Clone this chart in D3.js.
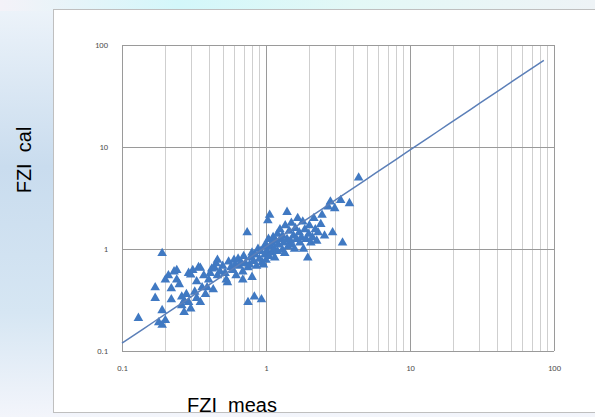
<!DOCTYPE html>
<head>
  <meta charset="utf-8">
  <script src="https://cdn.jsdelivr.net/npm/d3@7"></script>
  <style>
    body { margin: 0; }
    text { font-family: Calibri, Carlito, "Liberation Sans", sans-serif; }
    .tick text { fill: #4d4d4d; font-size: 8.5px; }
    .axisTitle { font-family: Arial, "Liberation Sans", sans-serif; font-size: 20px; fill: #000; white-space: pre; }
  </style>
</head>
<body>
  <svg width="595" height="417"></svg>
  <script>
    const fziMeas = [0.13, 0.17, 0.17, 0.19, 0.19, 0.18, 0.19, 0.2, 0.2, 0.21, 0.22, 0.22, 0.23, 0.24, 0.24, 0.25,
      0.26, 0.26, 0.27, 0.27, 0.28, 0.29, 0.29, 0.3, 0.3, 0.31, 0.32, 0.33, 0.33, 0.34, 0.35, 0.35, 0.36, 0.37, 0.38,
      0.39, 0.4, 0.41, 0.42, 0.43, 0.44, 0.45, 0.46, 0.46, 0.48, 0.5, 0.52, 0.53, 0.54, 0.55, 0.57, 0.59, 0.6, 0.61,
      0.62, 0.64, 0.65, 0.67, 0.69, 0.69, 0.7, 0.72, 0.74, 0.75, 0.75, 0.77, 0.78, 0.8, 0.8, 0.82, 0.83, 0.84, 0.86,
      0.88, 0.9, 0.92, 0.93, 0.94, 0.96, 0.97, 0.98, 1.0, 1.0, 1.02, 1.03, 1.04, 1.05, 1.06, 1.08, 1.1, 1.1, 1.12,
      1.14, 1.15, 1.17, 1.2, 1.2, 1.22, 1.25, 1.27, 1.3, 1.3, 1.33, 1.35, 1.36, 1.4, 1.4, 1.42, 1.45, 1.48, 1.5, 1.5,
      1.55, 1.58, 1.6, 1.63, 1.66, 1.7, 1.72, 1.76, 1.8, 1.82, 1.86, 1.9, 1.95, 1.98, 2.0, 2.05, 2.1, 2.15, 2.2, 2.25,
      2.3, 2.4, 2.45, 2.55, 2.7, 2.8, 2.9, 3.0, 3.3, 3.4, 3.8, 4.4];
    const fziCal = [0.21, 0.42, 0.33, 0.91, 0.25, 0.19, 0.18, 0.2, 0.5, 0.55, 0.41, 0.32, 0.6, 0.62, 0.5, 0.45,
      0.34, 0.28, 0.24, 0.31, 0.36, 0.3, 0.58, 0.56, 0.26, 0.62, 0.38, 0.33, 0.48, 0.66, 0.65, 0.3, 0.42, 0.55, 0.36,
      0.42, 0.5, 0.58, 0.64, 0.4, 0.65, 0.72, 0.78, 0.55, 0.6, 0.68, 0.58, 0.5, 0.47, 0.75, 0.66, 0.62, 0.78, 0.7,
      0.55, 0.8, 0.68, 0.74, 0.6, 0.5, 0.85, 0.72, 1.45, 0.3, 0.66, 0.7, 0.82, 0.53, 0.92, 0.76, 0.34, 0.88, 0.68,
      1.0, 0.8, 0.95, 0.32, 0.74, 0.7, 1.05, 0.88, 0.78, 1.1, 0.95, 1.9, 1.25, 0.85, 2.15, 1.05, 1.15, 0.92, 1.3,
      1.0, 0.82, 1.2, 1.4, 0.95, 1.1, 1.55, 1.25, 1.35, 0.98, 1.15, 0.91, 1.7, 2.3, 1.25, 1.05, 1.5, 1.2, 1.1, 1.8,
      1.35, 1.0, 1.6, 1.25, 2.0, 1.45, 1.15, 1.3, 1.85, 1.0, 1.55, 1.25, 0.82, 1.4, 1.7, 1.15, 1.3, 2.0, 1.55, 1.2,
      1.45, 1.75, 2.15, 1.35, 2.6, 2.9, 1.45, 2.5, 3.0, 1.15, 2.8, 5.0];

    // power trendline y = a * x^b, drawn over this x range
    const trendCoef = [1.055, 0.947];
    const trendRange = [0.1, 85];

    const tickValues = [0.1, 1, 10, 100];

    const svg = d3.select("svg");

    // backdrop behind the chart
    const defs = svg.append("defs");
    const grad = defs.append("linearGradient").attr("id", "bg")
      .attr("x1", 0).attr("y1", 0).attr("x2", 0).attr("y2", 1);
    grad.append("stop").attr("offset", "0%").attr("stop-color", "#eef4fa");
    grad.append("stop").attr("offset", "40%").attr("stop-color", "#c9dcee");
    grad.append("stop").attr("offset", "75%").attr("stop-color", "#d6e6f3");
    grad.append("stop").attr("offset", "100%").attr("stop-color", "#f3f5fb");
    const gradTop = defs.append("linearGradient").attr("id", "bgTop");
    gradTop.append("stop").attr("offset", "0%").attr("stop-color", "#f4f2f8");
    gradTop.append("stop").attr("offset", "30%").attr("stop-color", "#d3f7fa");
    gradTop.append("stop").attr("offset", "60%").attr("stop-color", "#e3f8f6");
    gradTop.append("stop").attr("offset", "100%").attr("stop-color", "#eef3f6");

    svg.append("rect").attr("width", 595).attr("height", 417).attr("fill", "url(#bg)");
    svg.append("rect").attr("width", 595).attr("height", 11).attr("fill", "url(#bgTop)");

    // chart frame
    svg.append("rect")
      .attr("x", 53.5).attr("y", 9.5).attr("width", 560).attr("height", 403)
      .attr("fill", "#fff").attr("stroke", "#bfbfbf");

    const x = d3.scaleLog().domain([0.1, 100]).range([122, 554]);
    const y = d3.scaleLog().domain([0.1, 100]).range([351, 45]);

    // minor vertical grid
    const minor = [];
    for (let e = -1; e < 2; e++) for (let k = 2; k < 10; k++) minor.push(k * Math.pow(10, e));
    svg.append("g").selectAll("line").data(minor).join("line")
      .attr("x1", d => Math.round(x(d)) + 0.5).attr("x2", d => Math.round(x(d)) + 0.5)
      .attr("y1", y(100)).attr("y2", y(0.1))
      .attr("stroke", "#cfcfcf").attr("stroke-width", 1);

    // major grid
    svg.append("g").selectAll("line").data(tickValues).join("line")
      .attr("x1", d => Math.round(x(d)) + 0.5).attr("x2", d => Math.round(x(d)) + 0.5)
      .attr("y1", y(100)).attr("y2", y(0.1))
      .attr("stroke", "#9a9a9a");
    svg.append("g").selectAll("line").data(tickValues).join("line")
      .attr("y1", d => Math.round(y(d)) + 0.5).attr("y2", d => Math.round(y(d)) + 0.5)
      .attr("x1", x(0.1)).attr("x2", x(100))
      .attr("stroke", "#9a9a9a");

    // axes (labels only)
    const fmt = d => String(d);
    svg.append("g").attr("transform", `translate(0,${y(0.1)})`)
      .call(d3.axisBottom(x).tickValues(tickValues).tickFormat(fmt).tickSize(0).tickPadding(14));
    svg.append("g").attr("transform", `translate(${x(0.1)},0)`)
      .call(d3.axisLeft(y).tickValues(tickValues).tickFormat(fmt).tickSize(0).tickPadding(14));
    svg.selectAll(".domain").remove();

    // points
    const pts = fziMeas.map((v, i) => ({ m: v, c: fziCal[i] }));
    const tri = d3.symbol().type(d3.symbolTriangle).size(40);
    svg.append("g").selectAll("path").data(pts).join("path")
      .attr("d", tri)
      .attr("transform", d => `translate(${x(d.m)},${y(d.c)})`)
      .attr("fill", "#4079c2");

    // trendline
    const trend = d3.range(0, 41).map(i => {
      const lx = Math.log10(trendRange[0]) + i / 40 * (Math.log10(trendRange[1]) - Math.log10(trendRange[0]));
      const xv = Math.pow(10, lx);
      return [xv, trendCoef[0] * Math.pow(xv, trendCoef[1])];
    });
    svg.append("path")
      .datum(trend)
      .attr("d", d3.line().x(d => x(d[0])).y(d => y(d[1])))
      .attr("fill", "none")
      .attr("stroke", "#5b7fb8")
      .attr("stroke-width", 1.5);

    // axis titles
    svg.append("text").attr("class", "axisTitle")
      .attr("x", 232).attr("y", 412).attr("text-anchor", "middle")
      .text("FZI  meas");
    svg.append("text").attr("class", "axisTitle")
      .attr("transform", "translate(31,160) rotate(-90)")
      .attr("text-anchor", "middle")
      .text("FZI  cal");
  </script>
</body>
